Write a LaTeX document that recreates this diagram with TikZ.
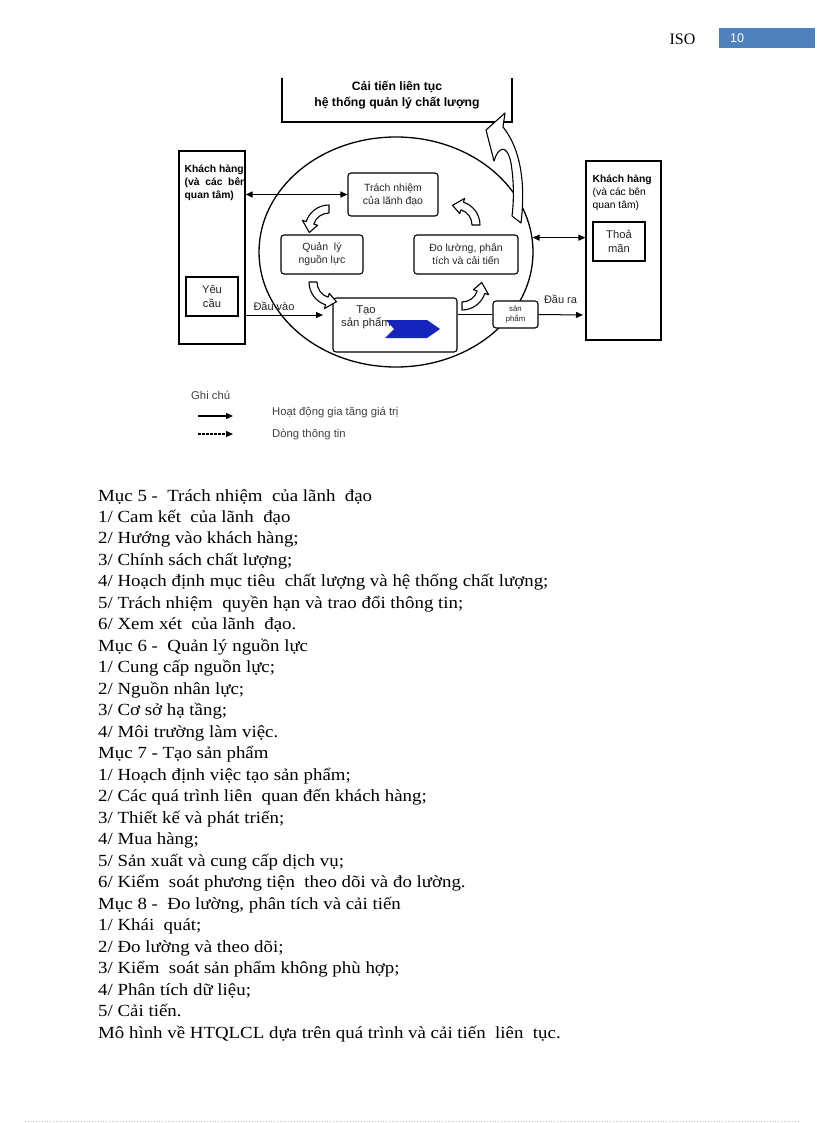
\documentclass[tikz,border=0pt]{standalone}
\usepackage{fontspec}
\setmainfont{Liberation Serif}
\setsansfont{Liberation Sans}
\newfontfamily\bodyfont{Liberation Serif}[FakeStretch=1.11]
\usetikzlibrary{shapes.geometric,arrows.meta,calc}
\definecolor{isoblue}{RGB}{79,129,189}
\definecolor{chevblue}{RGB}{22,36,190}
\tikzset{
  box/.style={draw, line width=1.1pt, rounded corners=3pt, fill=white, inner sep=1pt, align=center,
    font=\sffamily\fontsize{10.5}{13}\selectfont, text=black!85},
  plainbox/.style={draw, line width=1.2pt, fill=white, inner sep=0pt},
  lbl/.style={inner sep=0pt, font=\sffamily\fontsize{11}{13}\selectfont, text=black!85},
  custtxt/.style={anchor=north west, inner sep=0pt, align=left, font=\sffamily\fontsize{10.3}{13}\selectfont},
  keytxt/.style={anchor=west, inner sep=0pt, font=\sffamily\fontsize{11.3}{13}\selectfont, text=black!75},
  flow/.style={line width=1pt, -{Triangle[length=7pt,width=6pt]}},
  twoway/.style={line width=1pt, {Triangle[length=7pt,width=6pt]}-{Triangle[length=7pt,width=6pt]}},
  band/.style={draw, line width=1.1pt, fill=white, line join=round},
  bodyline/.style={anchor=base west, inner sep=0pt, font=\bodyfont\fontsize{17}{20}\selectfont},
  pics/bendarrow/.style={code={
    \draw[band] (#1:24) arc[start angle=#1, end angle=#1-72, radius=24] -- (#1-72:28) -- (#1-100:20)
      -- (#1-72:12) -- (#1-72:16) arc[start angle=#1-72, end angle=#1, radius=16] -- cycle;
  }}
}
\begin{document}
\begin{tikzpicture}[x=1pt,y=-1pt]
\useasboundingbox (0,0) rectangle (816,1123);
\node[inner sep=0pt, font=\fontsize{16}{18}\selectfont] (iso) at (682.5,39) {ISO};
\fill[isoblue] (719,28) rectangle (815,48);
\node[anchor=west, inner sep=0pt, text=white, font=\sffamily\fontsize{12.5}{15}\selectfont] (pagenum) at (730,38.5) {10};

\draw[line width=1.2pt] (282,78) |- (512,122) -- (512,78);
\node[align=center, inner sep=0pt, font=\sffamily\bfseries\fontsize{12.2}{16}\selectfont] (improve) at (397,95) {Cải tiến liên tục\\hệ thống quản lý chất lượng};

\node[plainbox, minimum width=66pt, minimum height=193pt] (custL) at (212,247.5) {};
\node[custtxt, font=\sffamily\bfseries\fontsize{10.3}{13}\selectfont] (custLtxt) at (184.5,165) {Khách hàng\\(và~ các~ bên\\quan tâm)};
\node[plainbox, minimum width=52pt, minimum height=39pt] (req) at (212,296.5) {};
\node[lbl, align=center, font=\sffamily\fontsize{11.2}{14}\selectfont] at (req) {Yêu\\cầu};

\node[plainbox, minimum width=75pt, minimum height=179pt] (custR) at (623.5,250.5) {};
\node[custtxt] (custRtxt) at (592.5,175) {\textbf{Khách hàng}\\(và các bên\\quan tâm)};
\node[plainbox, minimum width=52pt, minimum height=39pt] (sat) at (619,241.5) {};
\node[lbl, align=center, font=\sffamily\fontsize{11.2}{14}\selectfont] at (sat) {Thoả\\mãn};

\node[draw, ellipse, line width=1.3pt, minimum width=274pt, minimum height=230pt, inner sep=0pt] (qms) at (396,252) {};

\node[box, minimum width=90pt, minimum height=43pt] (lead) at (393,194.5) {Trách nhiệm\\của lãnh đạo};
\node[box, minimum width=82pt, minimum height=39pt] (res) at (322,254.5) {Quản~ lý\\nguồn lực};
\node[box, minimum width=104pt, minimum height=39pt] (meas) at (466,254.5) {Đo lường, phân\\tích và cải tiến};
\node[box, minimum width=124pt, minimum height=54pt] (make) at (395,325) {};
\node[lbl, align=center, font=\sffamily\fontsize{11.3}{13}\selectfont] (maketxt) at (366,317) {Tạo\\sản phẩm};
\fill[chevblue] (386,320) -- (427,320) -- (440,329) -- (427,338) -- (385,338) -- (394,329) -- cycle;
\node[box, minimum width=45pt, minimum height=27pt, font=\sffamily\fontsize{7.8}{10}\selectfont] (prod) at (515.5,314.5) {sản\\phẩm};

\pic at (329,229) {bendarrow=270};
\pic at (456,225) {bendarrow=360};
\pic at (333,282) {bendarrow=180};
\pic at (462,286) {bendarrow=90};
\draw[band] (512,216) -- (521,223) .. controls (525,190) and (523,152) .. (503,127) -- (505,113) -- (486,130)
  -- (494,161) .. controls (498,147) and (507,143) .. (511,163) .. controls (514,182) and (514,200) .. (512,216) -- cycle;

\draw[twoway] (custL.east |- lead.west) -- (lead.west);
\draw[twoway] (qms.6) -- (qms.6 -| custR.west);
\coordinate (inlet) at (323,315);
\draw[flow] (inlet -| custL.east) -- (inlet);
\node[lbl] (inlbl) at (274,306) {Đầu vào};
\draw[line width=1pt] (prod.west -| make.east) -- (prod.west);
\coordinate (outlet) at (583,315);
\draw[flow] (prod.east) -- (outlet);
\node[lbl] (outlbl) at (560.5,299) {Đầu ra};

\node[keytxt] (note) at (191,395) {Ghi chú};
\coordinate (solidA) at (198,416);
\coordinate (dashA) at (198,434);
\draw[flow, line width=1.3pt] (solidA) -- ++(35,0);
\draw[flow, line width=1.2pt, dash pattern=on 2.5pt off 1.5pt] (dashA) -- ++(35,0);
\node[keytxt] (keyvalue) at (272,413) {Hoạt động gia tăng giá trị};
\node[keytxt] (keyinfo) at (272,435) {Dòng thông tin};

\foreach \txt [count=\i] in {
  {Mục 5 -~ Trách nhiệm~ của lãnh~ đạo},
  {1/ Cam kết~ của lãnh~ đạo},
  {2/ Hướng vào khách hàng;},
  {3/ Chính sách chất lượng;},
  {4/ Hoạch định mục tiêu~ chất lượng và hệ thống chất lượng;},
  {5/ Trách nhiệm~ quyền hạn và trao đổi thông tin;},
  {6/ Xem xét~ của lãnh~ đạo.},
  {Mục 6 -~ Quản lý nguồn lực},
  {1/ Cung cấp nguồn lực;},
  {2/ Nguồn nhân lực;},
  {3/ Cơ sở hạ tầng;},
  {4/ Môi trường làm việc.},
  {Mục 7 - Tạo sản phẩm},
  {1/ Hoạch định việc tạo sản phẩm;},
  {2/ Các quá trình liên~ quan đến khách hàng;},
  {3/ Thiết kế và phát triển;},
  {4/ Mua hàng;},
  {5/ Sản xuất và cung cấp dịch vụ;},
  {6/ Kiểm~ soát phương tiện~ theo dõi và đo lường.},
  {Mục 8 -~ Đo lường, phân tích và cải tiến},
  {1/ Khái~ quát;},
  {2/ Đo lường và theo dõi;},
  {3/ Kiểm~ soát sản phẩm không phù hợp;},
  {4/ Phân tích dữ liệu;},
  {5/ Cải tiến.},
  {Mô hình về HTQLCL dựa trên quá trình và cải tiến~ liên~ tục.}}
  \node[bodyline] (line\i) at (98,{501+21.48*(\i-1)}) {\txt};

\draw[black!25, dotted, line width=0.8pt] (25,1121.5) -- (800,1121.5);
\end{tikzpicture}
\end{document}
